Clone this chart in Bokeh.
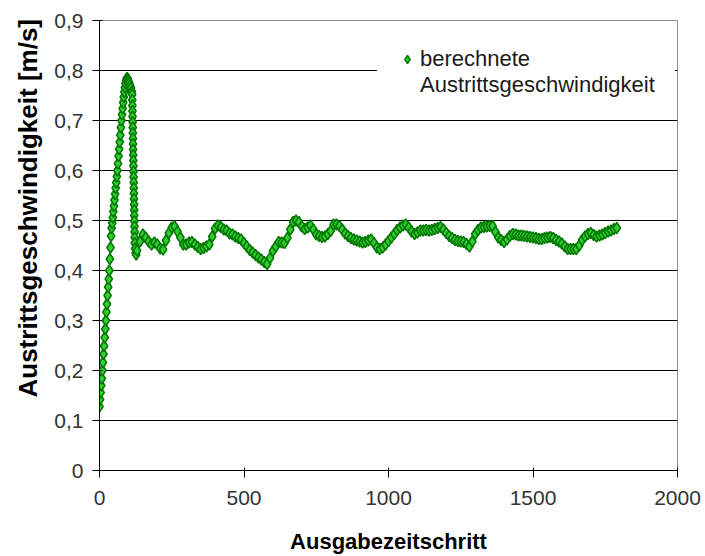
from bokeh.plotting import figure
from bokeh.models import (ColumnDataSource, Range1d, FixedTicker,
                          CustomJSTickFormatter, Legend, LegendItem, Title,
                          BoxAnnotation)
from bokeh.embed import file_html
from bokeh.resources import INLINE

# --- Anlaufphase: Anstieg bis zum Maximum ---
rise_step = list(range(0, 101, 2)) + [103, 106, 109, 112]
rise_value = [
    0.128, 0.142, 0.156, 0.170, 0.184, 0.200, 0.216, 0.233, 0.249, 0.266,
    0.283, 0.300, 0.317, 0.333, 0.350, 0.367, 0.383, 0.400, 0.423, 0.446,
    0.469, 0.485, 0.495, 0.506, 0.518, 0.529, 0.541, 0.553, 0.565, 0.576,
    0.588, 0.600, 0.614, 0.629, 0.643, 0.657, 0.671, 0.686, 0.700, 0.712,
    0.724, 0.736, 0.747, 0.757, 0.766, 0.774, 0.780, 0.784, 0.785, 0.783,
    0.779,
    0.775, 0.770, 0.765, 0.758,
]

# --- Abfall nach dem Maximum ---
fall_step = [113.0, 113.3, 113.7, 114.0, 114.3, 114.7, 115.0, 115.3, 115.7,
             116.0, 116.3, 116.7, 117.0, 117.3, 117.7, 118.0, 118.3, 118.7,
             119.0, 119.3, 119.7, 120.0, 120.3, 120.7, 121.0, 121.3, 121.7,
             122.0, 123.0, 125.0, 127.0]
fall_value = [0.752, 0.741, 0.730, 0.719, 0.708, 0.697, 0.686, 0.675, 0.664,
              0.653, 0.642, 0.631, 0.620, 0.609, 0.598, 0.587, 0.576, 0.565,
              0.554, 0.543, 0.532, 0.521, 0.510, 0.499, 0.488, 0.477, 0.466,
              0.455, 0.444, 0.435, 0.432]

# --- quasi-stationaerer Bereich ---
flat_step = list(range(130, 1800, 10))
flat_value = [
    0.440, 0.458, 0.472, 0.466, 0.458, 0.452, 0.456, 0.452, 0.444, 0.442,
    0.460, 0.475, 0.486, 0.488, 0.478, 0.466, 0.452, 0.452, 0.456, 0.457,
    0.452, 0.447, 0.443, 0.445, 0.448, 0.452, 0.468, 0.484, 0.490, 0.487,
    0.482, 0.480, 0.474, 0.472, 0.468, 0.465, 0.462, 0.455, 0.448, 0.441,
    0.436, 0.431, 0.426, 0.422, 0.417, 0.413, 0.425, 0.439, 0.448, 0.457,
    0.456, 0.455, 0.465, 0.482, 0.497, 0.500, 0.497, 0.488, 0.483, 0.486,
    0.490, 0.482, 0.472, 0.469, 0.467, 0.468, 0.473, 0.479, 0.492, 0.492,
    0.489, 0.482, 0.474, 0.469, 0.465, 0.462, 0.460, 0.458, 0.456, 0.457,
    0.460, 0.462, 0.455, 0.446, 0.443, 0.446, 0.452, 0.459, 0.466, 0.473,
    0.481, 0.486, 0.490, 0.492, 0.486, 0.478, 0.473, 0.476, 0.480, 0.480,
    0.481, 0.480, 0.481, 0.483, 0.485, 0.487, 0.482, 0.475, 0.469, 0.465,
    0.461, 0.459, 0.458, 0.457, 0.453, 0.448, 0.458, 0.473, 0.481, 0.486,
    0.487, 0.488, 0.489, 0.489, 0.477, 0.466, 0.461, 0.457, 0.462, 0.469,
    0.473, 0.472, 0.470, 0.470, 0.469, 0.468, 0.467, 0.466, 0.465, 0.463,
    0.463, 0.465, 0.466, 0.467, 0.465, 0.461, 0.458, 0.454, 0.448, 0.443,
    0.443, 0.443, 0.443, 0.450, 0.461, 0.468, 0.473, 0.475, 0.471, 0.468,
    0.470, 0.472, 0.475, 0.478, 0.480, 0.483, 0.485,
]

y_ticks = [0, 0.1, 0.2, 0.3, 0.4, 0.5, 0.6, 0.7, 0.8, 0.9]
x_ticks = [0, 500, 1000, 1500, 2000]

source = ColumnDataSource(data=dict(
    step=rise_step + fall_step + flat_step,
    velocity=rise_value + fall_value + flat_value,
))

FONT = "Liberation Sans"
FILL = "#33CC33"
EDGE = "#007800"

p = figure(width=705, height=556, output_backend="svg", toolbar_location=None,
           x_range=Range1d(0, 2000), y_range=Range1d(0, 0.9),
           min_border_left=99, min_border_right=28,
           min_border_top=20, min_border_bottom=86)
p.background_fill_color = "white"
p.border_fill_color = "white"
p.outline_line_color = "#8c8c8c"
p.outline_line_width = 1

# Achsen
comma = CustomJSTickFormatter(
    code="return tick == 0 ? '0' : tick.toFixed(1).replace('.', ',');")
p.yaxis.ticker = FixedTicker(ticks=y_ticks)
p.yaxis.formatter = comma
p.xaxis.ticker = FixedTicker(ticks=x_ticks)

for ax in (p.xaxis[0], p.yaxis[0]):
    ax.axis_line_color = "black"
    ax.axis_line_width = 1
    ax.major_tick_line_color = "black"
    ax.major_tick_out = 7
    ax.major_tick_in = 3
    ax.minor_tick_line_color = None
    ax.major_label_text_font = FONT
    ax.major_label_text_font_size = "21px"
    ax.major_label_text_color = "#333333"
    ax.axis_label_text_font = FONT
    ax.axis_label_text_font_style = "bold"
    ax.axis_label_text_color = "black"

p.xaxis.axis_label = "Ausgabezeitschritt"
p.xaxis.axis_label_text_font_size = "22px"
p.xaxis.major_label_standoff = 13
p.xaxis.axis_label_standoff = 21

p.yaxis.major_label_standoff = 9

# Titel der y-Achse, vom unteren Rand aus gesetzt
p.add_layout(Title(
    text="Austrittsgeschwindigkeit [m/s]", align="left", offset=73,
    text_font=FONT, text_font_style="bold", text_font_size="26px",
    text_color="black", standoff=18), "left")

p.xgrid.grid_line_color = None
p.ygrid.grid_line_color = "black"
p.ygrid.grid_line_width = 1

# Messpunkte als Rauten
pts = p.scatter("step", "velocity", source=source, marker="diamond",
                size=11, fill_color=FILL, line_color=EDGE, line_width=1.5)

# leerer Eintrag fuer die zweite Zeile der Legende
blank = p.scatter([], [], marker="diamond", fill_alpha=0, line_alpha=0)

# Legende: weisser Hintergrund unterbricht die Gitterlinie bei 0,8
p.add_layout(BoxAnnotation(left=960, right=1050, bottom=0.785, top=0.815,
                           fill_color="white", fill_alpha=1.0,
                           line_color=None))
legend = Legend(
    items=[LegendItem(label="berechnete", renderers=[pts]),
           LegendItem(label="Austrittsgeschwindigkeit", renderers=[blank])],
    location=(298, 372),
    margin=0, padding=0, spacing=0,
    glyph_width=20, glyph_height=20, label_standoff=3, label_width=255,
    label_text_font=FONT, label_text_font_size="22px",
    label_text_color="#1a1a1a",
    background_fill_color="white", background_fill_alpha=1.0,
    border_line_color=None,
)
p.add_layout(legend)

open("out.html", "w").write(file_html(p, INLINE))
